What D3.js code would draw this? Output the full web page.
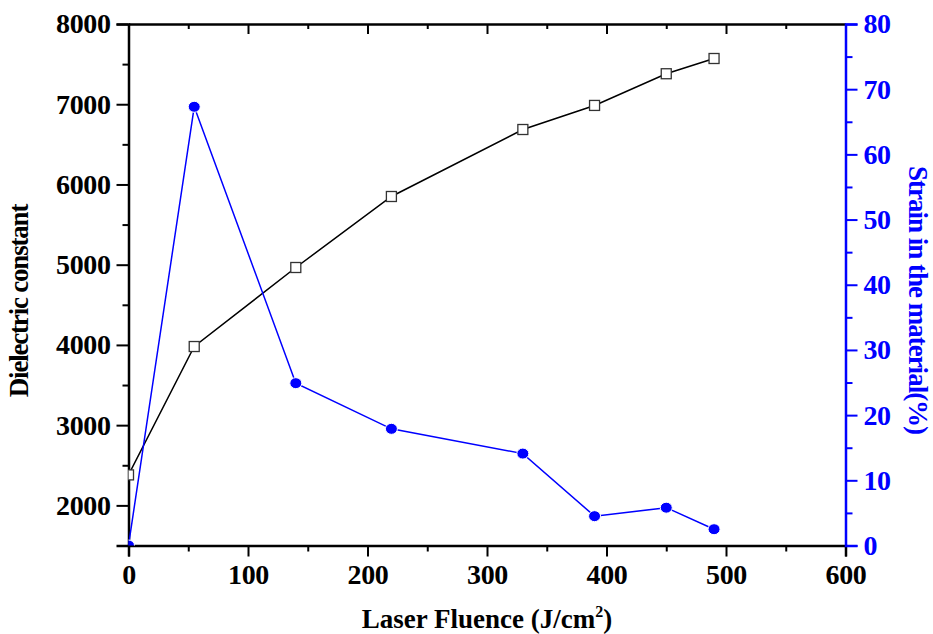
<!DOCTYPE html>
<html>
<head>
<meta charset="utf-8">
<script src="https://cdn.jsdelivr.net/npm/d3@7/dist/d3.min.js"></script>
<style>
  html, body { margin: 0; padding: 0; background: #fff; }
  svg { display: block; }
</style>
</head>
<body>
<div id="chart"></div>
<script>
// ---- data ----
const fluence = [0, 55, 140, 220, 330, 390, 450, 490];
const dielectric = [2380, 3980, 4965, 5850, 6685, 6985, 7380, 7570];
const strain = [0, 67.3, 24.9, 17.9, 14.1, 4.5, 5.8, 2.5];
const xTicks = [0, 100, 200, 300, 400, 500, 600];
const yLeftTicks = [2000, 3000, 4000, 5000, 6000, 7000, 8000];
const yRightTicks = [0, 10, 20, 30, 40, 50, 60, 70, 80];

const W = 933, H = 634;
const margin = { left: 128.5, right: 933 - 845.5, top: 24, bottom: 634 - 545.5 };
const iw = W - margin.left - margin.right;
const ih = H - margin.top - margin.bottom;
const BLUE = "#0000ff";
const FONT = "'Liberation Serif', 'DejaVu Serif', serif";

const svg = d3.select("#chart").append("svg").attr("width", W).attr("height", H)
  .style("font-family", FONT);
const g = svg.append("g").attr("transform", `translate(${margin.left},${margin.top})`);

const x = d3.scaleLinear().domain([0, 600]).range([0, iw]);
const yL = d3.scaleLinear().domain([1500, 8000]).range([ih, 0]);
const yR = d3.scaleLinear().domain([0, 80]).range([ih, 0]);

svg.append("defs").append("clipPath").attr("id", "plotclip")
  .append("rect").attr("x", 0).attr("y", 0).attr("width", iw).attr("height", ih);

const fs = 28;

// minor ticks
const xMinor = d3.range(50, 600, 100);
const yLMinor = d3.range(2500, 8000, 1000);
const yRMinor = d3.range(5, 80, 10);

// bottom axis
const axBottom = g.append("g").attr("transform", `translate(0,${ih})`)
  .call(d3.axisBottom(x).tickValues(xTicks).tickSize(11).tickPadding(8).tickFormat(d3.format("d")));
axBottom.append("g").call(d3.axisBottom(x).tickValues(xMinor).tickSize(6).tickFormat(""))
  .select(".domain").remove();
// top axis (inward ticks)
const axTop = g.append("g")
  .call(d3.axisBottom(x).tickValues(xTicks).tickSize(10).tickFormat("").tickSizeOuter(0));
axTop.append("g").call(d3.axisBottom(x).tickValues(xMinor).tickSize(5).tickFormat(""))
  .select(".domain").remove();
// left axis
const axLeft = g.append("g")
  .call(d3.axisLeft(yL).tickValues(yLeftTicks).tickSize(12).tickPadding(6).tickFormat(d3.format("d")));
axLeft.append("g").call(d3.axisLeft(yL).tickValues(yLMinor).tickSize(6).tickFormat(""))
  .select(".domain").remove();
// right axis
const axRight = g.append("g").attr("transform", `translate(${iw},0)`)
  .call(d3.axisRight(yR).tickValues(yRightTicks).tickSize(12).tickPadding(6).tickFormat(d3.format("d")));
axRight.append("g").call(d3.axisRight(yR).tickValues(yRMinor).tickSize(7).tickFormat(""))
  .select(".domain").remove();

[axBottom, axTop, axLeft, axRight].forEach(a => a.attr("font-family", null).attr("font-size", null));

[axBottom, axTop, axLeft].forEach(a => {
  a.selectAll("path.domain").attr("stroke", "#000").attr("stroke-width", 2.5);
  a.selectAll(".tick line").attr("stroke", "#000").attr("stroke-width", 2);
  a.selectAll(".tick text").attr("fill", "#000");
});
axRight.selectAll("path.domain").attr("stroke", BLUE).attr("stroke-width", 2.5);
axRight.selectAll(".tick line").attr("stroke", BLUE).attr("stroke-width", 2);
axRight.selectAll(".tick text").attr("fill", BLUE);
g.selectAll(".tick text")
  .style("font-family", FONT).style("font-weight", "bold")
  .style("font-size", fs + "px").style("letter-spacing", "-0.4px");
g.selectAll(".domain").attr("fill", "none");

// plot layer
const plot = g.append("g").attr("clip-path", "url(#plotclip)");

// dielectric series
plot.append("path")
  .datum(fluence.map((f, i) => [f, dielectric[i]]))
  .attr("fill", "none").attr("stroke", "#000").attr("stroke-width", 1.5)
  .attr("d", d3.line().x(d => x(d[0])).y(d => yL(d[1])));
plot.selectAll("rect.sq").data(fluence.map((f, i) => [f, dielectric[i]]))
  .enter().append("rect").attr("class", "sq")
  .attr("x", d => x(d[0]) - 5).attr("y", d => yL(d[1]) - 5)
  .attr("width", 10).attr("height", 10)
  .attr("fill", "#fff").attr("stroke", "#333").attr("stroke-width", 1.3);

// strain series
plot.append("path")
  .datum(fluence.map((f, i) => [f, strain[i]]))
  .attr("fill", "none").attr("stroke", BLUE).attr("stroke-width", 1.5)
  .attr("d", d3.line().x(d => x(d[0])).y(d => yR(d[1])));
plot.selectAll("ellipse.dot").data(fluence.map((f, i) => [f, strain[i]]))
  .enter().append("ellipse").attr("class", "dot")
  .attr("cx", d => x(d[0])).attr("cy", d => yR(d[1]))
  .attr("rx", 6).attr("ry", 5.5)
  .attr("fill", BLUE).attr("stroke", "#fff").attr("stroke-width", 1);

// axis titles
function title(sel, ls) {
  return sel.style("font-family", FONT).style("font-weight", "bold")
    .style("font-size", "27px").style("letter-spacing", ls + "px")
    .attr("text-anchor", "middle");
}
const xt = title(svg.append("text"), 0).attr("x", 487).attr("y", 628).attr("fill", "#000");
xt.append("tspan").text("Laser Fluence (J/cm");
xt.append("tspan").attr("dy", -11).style("font-size", "16px").text("2");
xt.append("tspan").attr("dy", 11).text(")");

title(svg.append("text"), -1.2)
  .attr("transform", `translate(28,${301}) rotate(-90)`)
  .attr("fill", "#000")
  .text("Dielectric constant");

title(svg.append("text"), -1)
  .attr("transform", `translate(909,${300}) rotate(90)`)
  .attr("fill", BLUE)
  .text("Strain in the material(%)");
</script>
</body>
</html>
